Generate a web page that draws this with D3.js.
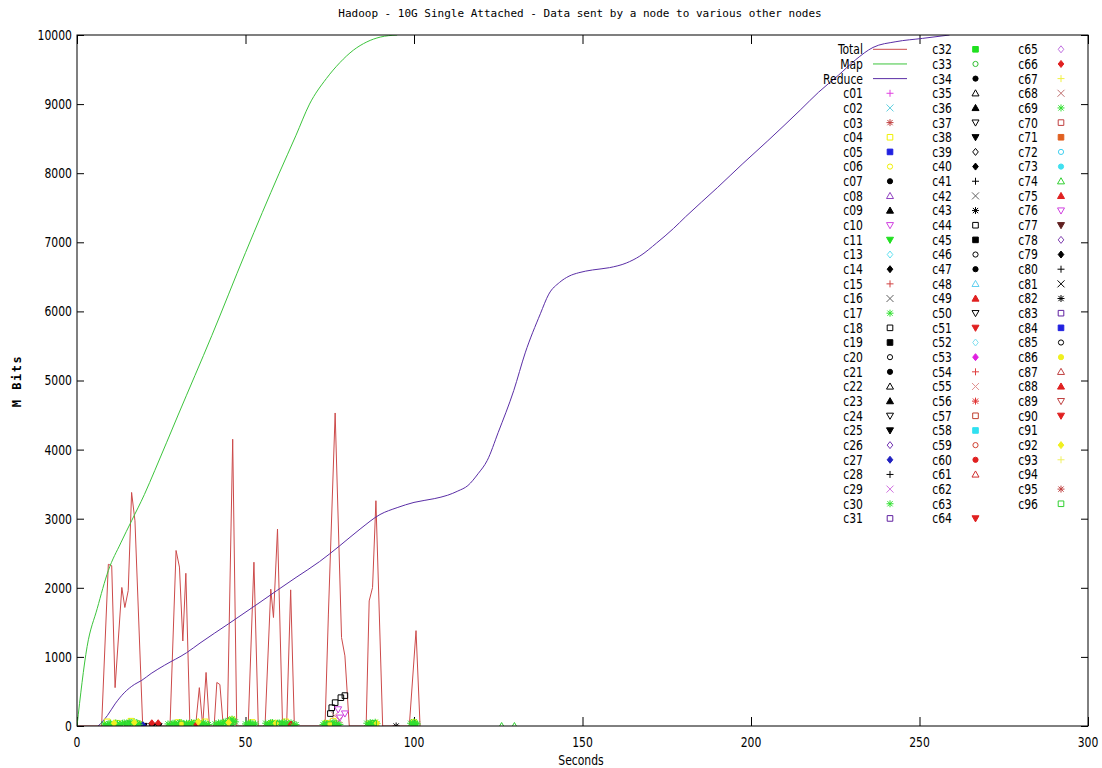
<html>
<head>
<script src="https://cdn.jsdelivr.net/npm/d3@7"></script>
<style>
  body { margin: 0; background: #fff; }
  text { font-family: 'Liberation Sans Narrow', 'DejaVu Sans Condensed', 'Liberation Sans', sans-serif; }
  .mono { font-family: 'DejaVu Sans Mono', 'Liberation Mono', monospace; }
</style>
</head>
<body>
<svg id="chart" width="1102" height="768"></svg>
<script>
// ---- data (seconds, M Bits) ----
var totalSec = [0, 7.3, 9.3, 10.3, 11.3, 13.3, 14.2, 15.2, 16.2, 17.2, 19.5, 27.6, 29.4, 30.4, 31.4, 32.3, 33.5, 35.2, 36.3, 37.3, 38.3, 39.3, 40.7, 41.5, 42.4, 43.4, 44.6, 46.2, 47.4, 50.8, 52.5, 53.8, 55.8, 57.5, 58.3, 59.5, 61, 62.2, 63.4, 64.5, 73.6, 74.6, 76.6, 78.5, 79.5, 80.8, 85.8, 86.7, 87.7, 88.7, 90.7, 98.6, 100.6, 101.8];
var totalVal = [0, 0, 2340, 2320, 555, 2005, 1715, 1960, 3380, 2970, 0, 0, 2540, 2300, 1230, 2210, 0, 0, 555, 0, 775, 0, 0, 630, 600, 0, 0, 4150, 0, 0, 2370, 0, 0, 1980, 1570, 2850, 0, 0, 1970, 0, 0, 1620, 4530, 1280, 1015, 0, 0, 1810, 2005, 3260, 0, 0, 1380, 0];

var mapSec = [0, 3, 6, 9.3, 13, 16.2, 20, 23.1, 30, 40, 50, 60, 65, 69, 74, 78, 82, 86, 90, 95];
var mapVal = [0, 1150, 1700, 2250, 2650, 2970, 3350, 3700, 4500, 5650, 6850, 8000, 8550, 9000, 9370, 9600, 9780, 9900, 9970, 10000];

var reduceSec = [6.3, 9, 11.3, 14, 17, 19.2, 22, 26, 32.5, 36.5, 45, 54.3, 59.3, 65, 72, 78, 84, 89.9, 95, 100, 106, 110, 113, 116, 119, 121.7, 125, 129.6, 133, 137.5, 140, 143.2, 146, 148.9, 153, 158, 163, 167, 172, 177, 180.6, 190, 197.6, 205, 214.6, 220, 226, 231, 236.2, 243, 250.9, 258.9];
var reduceVal = [0, 150, 320, 480, 600, 660, 760, 880, 1060, 1200, 1480, 1790, 1960, 2150, 2380, 2610, 2850, 3060, 3160, 3236, 3290, 3340, 3400, 3480, 3650, 3840, 4250, 4855, 5400, 5966, 6250, 6420, 6510, 6560, 6600, 6633, 6700, 6800, 6990, 7200, 7370, 7790, 8140, 8470, 8913, 9170, 9420, 9640, 9820, 9903, 9951, 10000];

var nodeNames = ["c01","c02","c03","c04","c05","c06","c07","c08","c09","c10","c11","c13","c14","c15","c16","c17","c18","c19","c20","c21","c22","c23","c24","c25","c26","c27","c28","c29","c30","c31",
  "c32","c33","c34","c35","c36","c37","c38","c39","c40","c41","c42","c43","c44","c45","c46","c47","c48","c49","c50","c51","c52","c53","c54","c55","c56","c57","c58","c59","c60","c61","c62","c63","c64",
  "c65","c66","c67","c68","c69","c70","c71","c72","c73","c74","c75","c76","c77","c78","c79","c80","c81","c82","c83","c84","c85","c86","c87","c88","c89","c90","c91","c92","c93","c94","c95","c96"];

var nodeColors = ["#e040e0","#60d0e0","#c04040","#f0f000","#2020e0","#f0f000","#000","#9040c0","#000","#d040e0","#20e020","#60e0f0","#000","#d04040","#606060","#30e030","#000","#000","#000","#000","#000","#000","#000","#000","#7030b0","#2020c0","#000","#d070e0","#30e030","#6020a0",
  "#20e020","#30c030","#000","#000","#000","#000","#000","#000","#000","#000","#606060","#000","#000","#000","#000","#000","#60d0f0","#e02020","#000","#e02020","#80e0f0","#e020e0","#e04040","#e09090","#e03030","#c04030","#30e0f0","#d04030","#e02020","#d03030","#fff","#fff","#e02020",
  "#c070e0","#e02020","#f0f040","#c07070","#30e030","#c04040","#e06020","#40d0f0","#40e0f0","#30d030","#e02020","#d040e0","#602020","#8040b0","#000","#000","#000","#000","#6020a0","#2020e0","#000","#f0f020","#c04040","#e02020","#c04040","#e02020","#fff","#f0f020","#f0f060","#fff","#c04040","#30d030"];

// per-node samples that show up in the picture, [seconds, M Bits]
var pointsC17 = [[8,30],[9,20],[10,40],[11,25],[12,35],[13,20],[14,45],[15,30],[16,50],[17,60],[18,40],[19,20],[27,30],[28,25],[29,40],[30,30],[31,45],[32,20],[33,35],[34,50],[35,30],[36,40],[37,25],[38,30],[39,20],[41,30],[42,45],[43,40],[44,60],[45,80],[46,100],[47,60],[50,30],[51,40],[52,25],[53,30],[56,40],[57,35],[58,50],[59,30],[60,45],[61,40],[62,30],[63,35],[64,25],[65,20],[73,20],[74,30],[75,40],[76,50],[77,30],[78,20],[86,40],[87,50],[88,30],[89,35],[99,40],[100,60],[101,30]];
var pointsC30 = [[8.5,10],[9.5,35],[10.5,20],[11.5,45],[12.5,15],[13.5,40],[14.5,25],[15.5,55],[16.5,30],[17.5,45],[18.5,25],[27.5,15],[28.5,40],[29.5,20],[30.5,50],[31.5,25],[32.5,40],[33.5,15],[34.5,35],[35.5,55],[36.5,20],[37.5,45],[38.5,15],[41.5,20],[42.5,35],[43.5,55],[44.5,30],[45.5,50],[46.5,70],[50.5,15],[51.5,45],[52.5,20],[56.5,20],[57.5,50],[58.5,25],[59.5,40],[60.5,20],[61.5,55],[62.5,20],[63.5,45],[64.5,15],[73.5,40],[74.5,15],[75.5,25],[76.5,45],[77.5,15],[86.5,20],[87.5,30],[88.5,55],[99.5,20],[100.5,35]];
var pointsC69 = [[9,5],[12,10],[15,15],[18,5],[29,10],[33,5],[37,15],[43,10],[46,20],[51,10],[57,5],[61,10],[64,5],[74,5],[77,10],[87,10],[100,10]];
var pointsC04 = [[9,60],[12,40],[16,70],[18,30],[30,50],[35,40],[38,60],[44,40],[46,90],[52,50],[58,40],[62,60],[74,40],[76,70],[87,30],[100,50]];
var pointsC06 = [[10,20],[14,30],[29,20],[33,30],[42,20],[57,30],[63,20],[88,20]];
var pointsC92 = [[11,40],[17,50],[31,30],[36,60],[45,50],[59,40],[75,30],[89,40]];
var pointsC03 = [[17,20],[18.5,30],[36,40],[37,20],[46,30],[77,40],[100,30]];
var pointsC66 = [[22.2,40],[24.1,40],[35.5,20],[63.5,20]];
var pointsC25 = [[19.8,0],[22.3,0],[24.2,0]];
var pointsC27 = [[19.6,10]];
var pointsC96 = [[15,30],[31,30],[60,30],[75,20],[88,40]];
var pointsC74 = [[126,0],[129.8,0]];
var pointsC43 = [[94.7,0]];
var pointsC18 = [[75.2,180],[75.6,265],[76.6,338],[78.3,410],[79.5,440]];
var pointsC76 = [[77.5,240],[79.5,180],[78,120]];
var pointsC55 = [[76.5,150],[77.8,90]];

var xTicks = [0, 50, 100, 150, 200, 250, 300];
var yTicks = [0, 1000, 2000, 3000, 4000, 5000, 6000, 7000, 8000, 9000, 10000];

var nodePoints = {
  c17: pointsC17, c30: pointsC30, c69: pointsC69, c04: pointsC04, c06: pointsC06, c92: pointsC92,
  c03: pointsC03, c66: pointsC66, c25: pointsC25, c27: pointsC27, c96: pointsC96, c74: pointsC74,
  c43: pointsC43, c18: pointsC18, c76: pointsC76, c55: pointsC55
};

var svg = d3.select("#chart");
var plotLeft = 77, plotRight = 1088, plotTop = 35, plotBottom = 726;
var narrow = 0.86;  // gnuplot's font is narrower than what we have

var x = d3.scaleLinear().domain([0, 300]).range([plotLeft, plotRight]);
var y = d3.scaleLinear().domain([0, 10000]).range([plotBottom, plotTop]);

// gnuplot point types: + x * box fbox circ fcirc tri ftri dtri fdtri diam fdiam
function markerPath(t, r) {
  switch (t) {
    case 0: return "M" + (-r) + ",0H" + r + "M0," + (-r) + "V" + r;
    case 1: return "M" + (-r) + "," + (-r) + "L" + r + "," + r + "M" + (-r) + "," + r + "L" + r + "," + (-r);
    case 2: return "M" + (-r) + ",0H" + r + "M0," + (-r) + "V" + r +
                   "M" + (-r*.75) + "," + (-r*.75) + "L" + (r*.75) + "," + (r*.75) + "M" + (-r*.75) + "," + (r*.75) + "L" + (r*.75) + "," + (-r*.75);
    case 3: case 4: return "M" + (-r*.8) + "," + (-r*.8) + "H" + (r*.8) + "V" + (r*.8) + "H" + (-r*.8) + "Z";
    case 5: case 6: return d3.symbol(d3.symbolCircle, Math.PI * r * r * 0.55)();
    case 7: case 8: return "M0," + (-r) + "L" + r + "," + (r*.75) + "H" + (-r) + "Z";
    case 9: case 10: return "M0," + r + "L" + r + "," + (-r*.75) + "H" + (-r) + "Z";
    default: return "M0," + (-r) + "L" + (r*.8) + ",0L0," + r + "L" + (-r*.8) + ",0Z";
  }
}
function isFilled(t) { return t === 4 || t === 6 || t === 8 || t === 10 || t === 12; }

// text squeezed horizontally around its anchor point
function narrowText(g, px, py, str, anchor, size) {
  return g.append("text")
    .attr("transform", "translate(" + px + "," + py + ") scale(" + narrow + ",1)")
    .attr("text-anchor", anchor).attr("dy", "0.35em")
    .attr("font-size", size).text(str);
}

// title and axis names
svg.append("text").attr("class", "mono")
  .attr("x", 580).attr("y", 17).attr("text-anchor", "middle")
  .attr("font-size", 11).text("Hadoop - 10G Single Attached - Data sent by a node to various other nodes");
narrowText(svg, 581, 760, "Seconds", "middle", 14);
svg.append("text").attr("class", "mono")
  .attr("transform", "translate(21,381) rotate(-90)").attr("text-anchor", "middle")
  .attr("font-size", 12).attr("font-weight", "bold").attr("letter-spacing", 1.5).text("M Bits");

// axes, ticks inward like gnuplot
svg.append("g").attr("transform", "translate(" + plotLeft + ",0)")
  .call(d3.axisLeft(y).tickValues(yTicks).tickSize(-7).tickFormat(""));
svg.append("g").attr("transform", "translate(" + plotRight + ",0)")
  .call(d3.axisRight(y).tickValues(yTicks).tickSize(-7).tickFormat(""));
svg.append("g").attr("transform", "translate(0," + plotBottom + ")")
  .call(d3.axisBottom(x).tickValues(xTicks).tickSize(-9).tickFormat(""));
svg.append("g").attr("transform", "translate(0," + plotTop + ")")
  .call(d3.axisTop(x).tickValues(xTicks).tickSize(-9).tickFormat(""));
svg.selectAll(".domain").remove();
svg.selectAll(".tick line").attr("stroke", "#000");

var yLab = svg.append("g");
yTicks.forEach(function(v) { narrowText(yLab, plotLeft - 5, y(v), String(v), "end", 14); });
var xLab = svg.append("g");
xTicks.forEach(function(v) { narrowText(xLab, x(v), plotBottom + 16, String(v), "middle", 14); });

svg.append("defs").append("clipPath").attr("id", "plotclip")
  .append("rect").attr("x", plotLeft).attr("y", plotTop).attr("width", plotRight - plotLeft).attr("height", plotBottom - plotTop);

var plot = svg.append("g").attr("clip-path", "url(#plotclip)");

var lineStraight = d3.line().x(function(d) { return x(d[0]); }).y(function(d) { return y(d[1]); });
var lineSmooth = d3.line().curve(d3.curveMonotoneX).x(function(d) { return x(d[0]); }).y(function(d) { return y(d[1]); });

var lines = [
  { name: "Total", sec: totalSec, val: totalVal, color: "#cc4a4a", gen: lineStraight },
  { name: "Map", sec: mapSec, val: mapVal, color: "#3cc43c", gen: lineSmooth },
  { name: "Reduce", sec: reduceSec, val: reduceVal, color: "#5a2ea6", gen: lineSmooth }
];

lines.forEach(function(l) {
  plot.append("path")
    .attr("fill", "none").attr("stroke", l.color).attr("stroke-width", 1)
    .attr("d", l.gen(l.sec.map(function(s, i) { return [s, l.val[i]]; })));
});

// scatter marks for each node
nodeNames.forEach(function(n, i) {
  var pts = nodePoints[n];
  if (!pts) return;
  var t = i % 13, c = nodeColors[i];
  plot.selectAll(null).data(pts).enter().append("path")
    .attr("transform", function(d) { return "translate(" + x(d[0]) + "," + y(d[1]) + ")"; })
    .attr("d", markerPath(t, 3.5))
    .attr("fill", isFilled(t) ? c : "none")
    .attr("stroke", c).attr("stroke-width", 1);
});

// plot border
svg.append("rect").attr("x", plotLeft).attr("y", plotTop).attr("width", plotRight - plotLeft).attr("height", plotBottom - plotTop)
  .attr("fill", "none").attr("stroke", "#000").attr("stroke-width", 1);

// legend, three columns
var rowY0 = 49.3, rowH = 14.66;
var colLabelX = [863, 952, 1038], colMarkX = [890, 975.5, 1061];
var leg = svg.append("g");

lines.forEach(function(l, i) {
  var yy = rowY0 + i * rowH;
  narrowText(leg, colLabelX[0], yy, l.name, "end", 14);
  leg.append("line").attr("x1", 873).attr("x2", 907).attr("y1", yy).attr("y2", yy)
    .attr("stroke", l.color).attr("stroke-width", 1);
});

nodeNames.forEach(function(n, i) {
  var slot = i + 3, col = slot < 33 ? 0 : (slot < 66 ? 1 : 2);
  var row = slot - col * 33;
  var yy = rowY0 + row * rowH;
  var t = i % 13, c = nodeColors[i];
  narrowText(leg, colLabelX[col], yy, n, "end", 14);
  leg.append("path").attr("transform", "translate(" + colMarkX[col] + "," + yy + ")")
    .attr("d", markerPath(t, 3.5))
    .attr("fill", isFilled(t) ? c : "none")
    .attr("stroke", c).attr("stroke-width", 1);
});
</script>
</body>
</html>
